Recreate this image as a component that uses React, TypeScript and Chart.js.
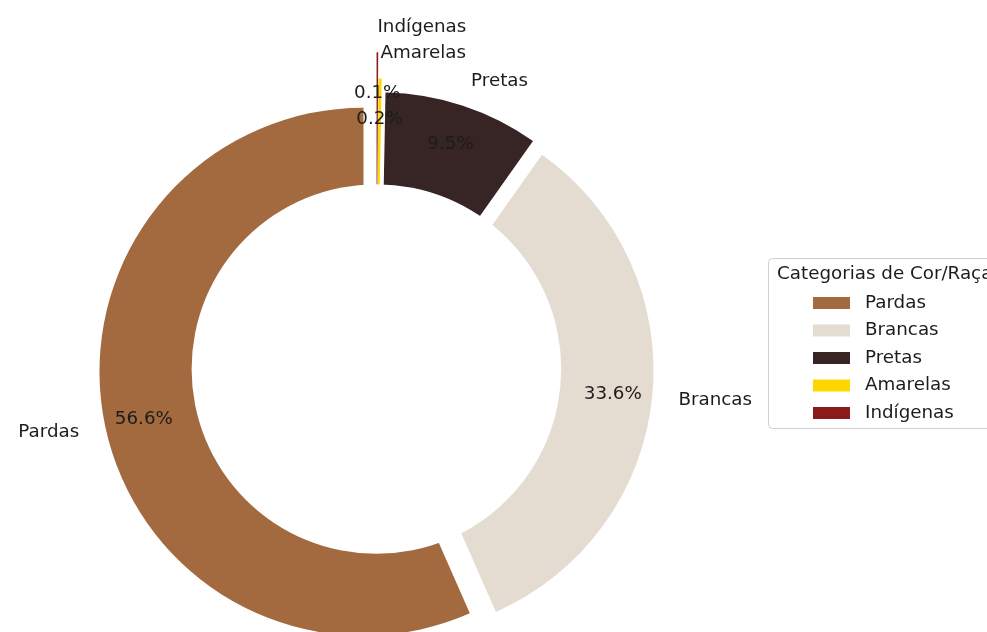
import React, { useEffect, useRef } from 'react';
import { Chart, registerables } from 'chart.js';

Chart.register(...registerables);

// ---- data (legend / matplotlib order, counter-clockwise from 12 o'clock) ----
const categories = ['Pardas', 'Brancas', 'Pretas', 'Amarelas', 'Indígenas'];
const shares = [56.6, 33.6, 9.5, 0.2, 0.1];
const explode = [0.05, 0.05, 0.05, 0.1, 0.2];
const colors = ['#A36A3F', '#E4DCD0', '#372525', '#FFD700', '#8B1A1A'];
const legendTitle = 'Categorias de Cor/Raça';

// ---- layout ----
const W = 987;
const H = 632;
const CX = 376.4;
const CY = 369;
const R = 264;
const HOLE = 0.7;
const PCT_DIST = 0.85;
const LABEL_DIST = 1.1;
const FONT = '"DejaVu Sans", Verdana, sans-serif';
const FSIZE = 18.3;
const TEXT = '#1c1c1c';

// Chart.js draws clockwise, matplotlib drew counter-clockwise: reverse.
const rLabels = [...categories].reverse();
const rShares = [...shares].reverse();
const rExplode = [...explode].reverse();
const rColors = [...colors].reverse();

const explodePlugin = {
  id: 'explodeArcs',
  beforeDatasetsDraw(chart: any) {
    const meta = chart.getDatasetMeta(0);
    const a = chart.chartArea;
    const cx = (a.left + a.right) / 2;
    const cy = (a.top + a.bottom) / 2;
    meta.data.forEach((el: any, i: number) => {
      const mid = (el.startAngle + el.endAngle) / 2;
      const d = rExplode[i] * el.outerRadius;
      el.x = cx + Math.cos(mid) * d;
      el.y = cy + Math.sin(mid) * d;
    });
  },
  afterDatasetsDraw(chart: any) {
    const ctx = chart.ctx as CanvasRenderingContext2D;
    const meta = chart.getDatasetMeta(0);
    const a = chart.chartArea;
    const cx = (a.left + a.right) / 2;
    const cy = (a.top + a.bottom) / 2;
    const data = chart.data.datasets[0].data as number[];
    const total = data.reduce((s, v) => s + v, 0);
    ctx.save();
    // centre circle
    const outer = meta.data[0].outerRadius;
    ctx.fillStyle = '#ffffff';
    ctx.beginPath();
    ctx.arc(cx, cy, HOLE * outer, 0, Math.PI * 2);
    ctx.fill();
    // labels
    ctx.font = `${FSIZE}px ${FONT}`;
    ctx.fillStyle = TEXT;
    ctx.textBaseline = 'middle';
    meta.data.forEach((el: any, i: number) => {
      const mid = (el.startAngle + el.endAngle) / 2;
      const r = el.outerRadius;
      const c = Math.cos(mid);
      const s = Math.sin(mid);
      const lx = el.x + c * LABEL_DIST * r;
      const ly = el.y + s * LABEL_DIST * r;
      ctx.textAlign = lx - cx > 0 ? 'left' : 'right';
      ctx.fillText(chart.data.labels[i], lx, ly + 1);
      ctx.textAlign = 'center';
      const pct = ((data[i] / total) * 100).toFixed(1) + '%';
      ctx.fillText(pct, el.x + c * PCT_DIST * r, el.y + s * PCT_DIST * r + 1);
    });
    ctx.restore();
  },
};

const legendPlugin = {
  id: 'boxLegend',
  afterDraw(chart: any) {
    const ctx = chart.ctx as CanvasRenderingContext2D;
    ctx.save();
    const x0 = 768.5;
    const y0 = 258.5;
    const w = 260;
    const h = 170;
    const rad = 4;
    ctx.beginPath();
    ctx.moveTo(x0 + rad, y0);
    ctx.lineTo(x0 + w - rad, y0);
    ctx.arcTo(x0 + w, y0, x0 + w, y0 + rad, rad);
    ctx.lineTo(x0 + w, y0 + h - rad);
    ctx.arcTo(x0 + w, y0 + h, x0 + w - rad, y0 + h, rad);
    ctx.lineTo(x0 + rad, y0 + h);
    ctx.arcTo(x0, y0 + h, x0, y0 + h - rad, rad);
    ctx.lineTo(x0, y0 + rad);
    ctx.arcTo(x0, y0, x0 + rad, y0, rad);
    ctx.closePath();
    ctx.fillStyle = 'rgba(255,255,255,0.8)';
    ctx.fill();
    ctx.strokeStyle = '#d0d0d0';
    ctx.lineWidth = 1;
    ctx.stroke();

    ctx.font = `${FSIZE}px ${FONT}`;
    ctx.fillStyle = TEXT;
    ctx.textBaseline = 'middle';
    ctx.textAlign = 'left';
    ctx.fillText(legendTitle, 777, 274);
    categories.forEach((name, i) => {
      const y = 303 + i * 27.5;
      ctx.fillStyle = colors[i];
      ctx.fillRect(813, y - 6, 37, 12);
      ctx.fillStyle = TEXT;
      ctx.fillText(name, 865, y);
    });
    ctx.restore();
  },
};

export default function App() {
  const ref = useRef<HTMLCanvasElement>(null);
  useEffect(() => {
    if (!ref.current) return;
    const chart = new Chart(ref.current, {
      type: 'pie',
      data: {
        labels: rLabels,
        datasets: [
          {
            data: rShares,
            backgroundColor: rColors,
            borderWidth: 0,
            radius: R,
            clip: false,
          } as any,
        ],
      },
      options: {
        responsive: false,
        animation: false,
        events: [],
        rotation: 0,
        layout: {
          padding: { left: 0, top: CY * 2 - H, right: W - CX * 2, bottom: 0 },
        },
        plugins: {
          legend: { display: false },
          tooltip: { enabled: false },
          title: { display: false },
        },
      } as any,
      plugins: [explodePlugin, legendPlugin],
    });
    return () => chart.destroy();
  }, []);
  return (
    <div style={{ position: 'absolute', left: 0, top: 0, width: W, height: H, background: '#fff', overflow: 'hidden' }}>
      <canvas ref={ref} width={W} height={H} style={{ display: 'block', width: W, height: H }} />
    </div>
  );
}
